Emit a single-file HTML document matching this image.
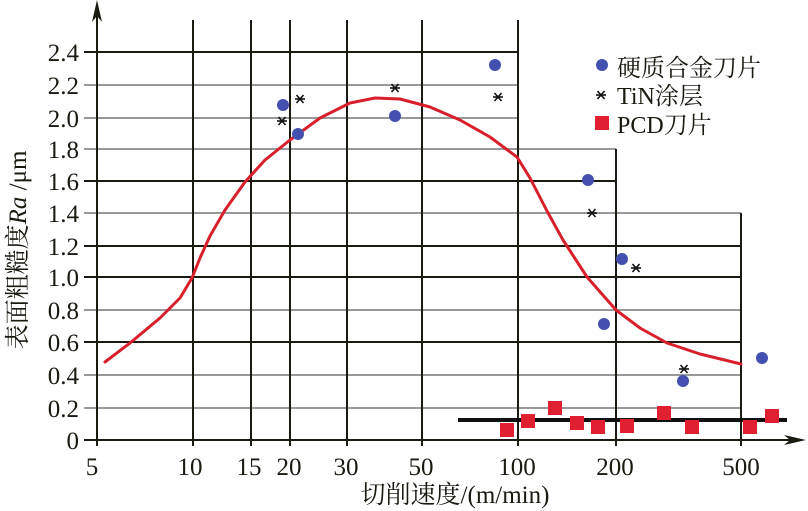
<!DOCTYPE html>
<html><head><meta charset="utf-8"><style>body{margin:0;background:#fff}svg{display:block}text{font-family:"Liberation Serif","Noto Serif CJK SC",serif}</style></head><body>
<svg width="808" height="511" xmlns="http://www.w3.org/2000/svg">
<defs><g id="st" stroke="#111" stroke-width="1.6"><line x1="-5" y1="0" x2="5" y2="0"/><line x1="-3.5" y1="-4" x2="3.5" y2="4"/><line x1="-3.5" y1="4" x2="3.5" y2="-4"/></g></defs>
<g stroke="#999" stroke-width="2">
<line x1="84" y1="85" x2="518" y2="85"/><line x1="84" y1="118" x2="518" y2="118"/>
<line x1="84" y1="149" x2="616" y2="149"/><line x1="84" y1="213" x2="741" y2="213"/>
<line x1="84" y1="310" x2="741" y2="310"/><line x1="84" y1="375" x2="741" y2="375"/><line x1="84" y1="408" x2="741" y2="408"/>
</g>
<g stroke="#1a1a10" stroke-width="2">
<line x1="84" y1="52" x2="518" y2="52"/><line x1="84" y1="181" x2="616" y2="181"/>
<line x1="84" y1="246" x2="741" y2="246"/><line x1="84" y1="277" x2="741" y2="277"/><line x1="84" y1="342" x2="741" y2="342"/>
<line x1="193" y1="20" x2="193" y2="446"/><line x1="251" y1="20" x2="251" y2="446"/><line x1="290" y1="20" x2="290" y2="446"/>
<line x1="347" y1="20" x2="347" y2="446"/><line x1="422" y1="20" x2="422" y2="446"/><line x1="518" y1="20" x2="518" y2="446"/>
<line x1="616" y1="149" x2="616" y2="446"/><line x1="741" y1="213" x2="741" y2="446"/>
<line x1="97" y1="6" x2="97" y2="446"/><line x1="84" y1="440" x2="795" y2="440"/>
</g>
<path d="M97,0 L92,22 L97,16 L102,22Z" fill="#1a1a10"/>
<path d="M806,440 L784,435 L790,440 L784,445Z" fill="#1a1a10"/>
<line x1="458" y1="420" x2="787" y2="420" stroke="#111" stroke-width="4"/>
<polyline points="105,362 130,343 160,318 180,298 192,278 200,258 210,236 225,210 245,182 265,160 290,140 320,118 350,103 375,98 400,99 430,107 460,120 490,137 517,157 530,178 547,211 563,240 587,277 616,310 640,328 667,343 700,354 741,364" fill="none" stroke="#d8202c" stroke-width="3" stroke-linejoin="round" stroke-linecap="round"/>
<g fill="#4450b0">
<circle cx="283" cy="105" r="6"/><circle cx="298" cy="134" r="6"/><circle cx="395" cy="116" r="6"/><circle cx="495" cy="65" r="6"/>
<circle cx="588" cy="180" r="6"/><circle cx="622" cy="259" r="6"/><circle cx="604" cy="324" r="6"/><circle cx="683" cy="381" r="6"/><circle cx="762" cy="358" r="6"/>
<circle cx="602" cy="65" r="6"/>
</g>
<use href="#st" x="282" y="121"/><use href="#st" x="300" y="99"/><use href="#st" x="395" y="88"/><use href="#st" x="498" y="97"/>
<use href="#st" x="592" y="213"/><use href="#st" x="636" y="268"/><use href="#st" x="684" y="369"/><use href="#st" x="601" y="95"/>
<g fill="#e02030">
<rect x="500" y="423" width="14" height="14"/><rect x="521" y="414" width="14" height="14"/><rect x="548" y="401" width="14" height="14"/>
<rect x="570" y="416" width="14" height="14"/><rect x="591" y="420" width="14" height="14"/><rect x="620" y="419" width="14" height="14"/>
<rect x="657" y="406" width="14" height="14"/><rect x="685" y="420" width="14" height="14"/><rect x="743" y="420" width="14" height="14"/>
<rect x="765" y="409" width="14" height="14"/><rect x="595" y="116" width="14" height="14"/>
</g>
<g font-size="24" fill="#1a1a10">
<text x="617" y="76">硬质合金刀片</text><text x="617" y="104">TiN涂层</text><text x="617" y="133">PCD刀片</text>
</g>
<g font-size="25" fill="#1a1a10" text-anchor="end">
<text x="79" y="61">2.4</text><text x="79" y="94">2.2</text><text x="79" y="127">2.0</text><text x="79" y="158">1.8</text>
<text x="79" y="190">1.6</text><text x="79" y="222">1.4</text><text x="79" y="255">1.2</text><text x="79" y="286">1.0</text>
<text x="79" y="319">0.8</text><text x="79" y="351">0.6</text><text x="79" y="384">0.4</text><text x="79" y="417">0.2</text><text x="79" y="449">0</text>
</g>
<g font-size="25" fill="#1a1a10" text-anchor="middle">
<text x="92" y="475">5</text><text x="190" y="475">10</text><text x="249" y="475">15</text><text x="289" y="475">20</text>
<text x="346" y="475">30</text><text x="421" y="475">50</text><text x="517" y="475">100</text><text x="615" y="475">200</text><text x="741" y="475">500</text>
<text x="455" y="503">切削速度/(m/min)</text>
</g>
<text transform="translate(26,250) rotate(-90)" font-size="25" fill="#1a1a10" text-anchor="middle">表面粗糙度<tspan font-style="italic">Ra</tspan> /μm</text>
</svg>
</body></html>
